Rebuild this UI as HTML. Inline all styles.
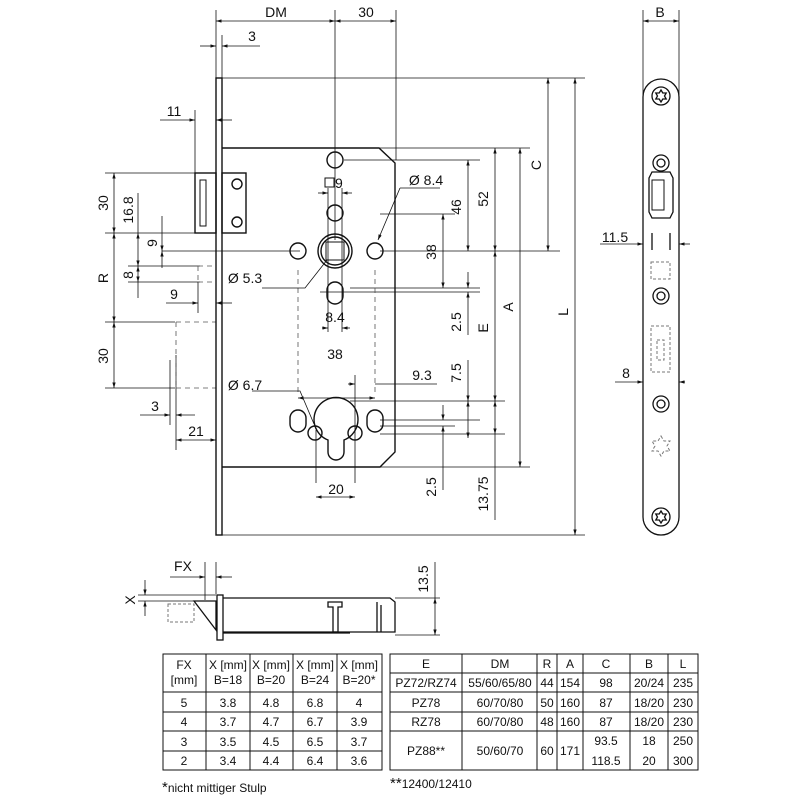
<!DOCTYPE html>
<html><head><meta charset="utf-8"><style>
html,body{margin:0;padding:0;background:#fff;width:800px;height:800px;overflow:hidden}
svg{display:block;overflow:hidden}
text{font-family:"Liberation Sans",Arial,sans-serif;fill:#111}
</style></head><body>
<svg width="800" height="800" viewBox="0 0 800 800" xmlns="http://www.w3.org/2000/svg">
<defs>
<marker id="a" viewBox="0 0 10 10" refX="10" refY="5" markerWidth="7" markerHeight="7" orient="auto-start-reverse"><path d="M0,2 L10,5 L0,8z" fill="#111"/></marker>
<g id="star"><path d="M0,-6 L1.8,-3 5.2,-3 3.5,0 5.2,3 1.8,3 0,6 -1.8,3 -5.2,3 -3.5,0 -5.2,-3 -1.8,-3Z"/></g>
</defs>
<g stroke="#111" fill="none" stroke-width="0.8">
<line x1="216" y1="10" x2="216" y2="78"/><line x1="335" y1="10" x2="335" y2="240"/><line x1="396" y1="10" x2="396" y2="160"/>
<line x1="222" y1="35" x2="222" y2="78"/>
<line x1="216" y1="78" x2="585" y2="78"/>
<line x1="222" y1="148" x2="530" y2="148"/>
<line x1="344" y1="160" x2="480" y2="160"/>
<line x1="380" y1="214" x2="455" y2="214"/>
<line x1="380" y1="251" x2="560" y2="251"/>
<line x1="350" y1="288" x2="480" y2="288"/>
<line x1="320" y1="292" x2="480" y2="292"/>
<line x1="350" y1="401" x2="505" y2="401"/>
<line x1="380" y1="420" x2="480" y2="420"/>
<line x1="380" y1="426" x2="455" y2="426"/>
<line x1="380" y1="434" x2="505" y2="434"/>
<line x1="222" y1="467" x2="530" y2="467"/>
<line x1="222" y1="535" x2="585" y2="535"/>
<line x1="216" y1="21" x2="335" y2="21" marker-start="url(#a)" marker-end="url(#a)"/>
<line x1="335" y1="21" x2="396" y2="21" marker-start="url(#a)" marker-end="url(#a)"/>
<line x1="200" y1="46" x2="216" y2="46" marker-end="url(#a)"/><line x1="260" y1="46" x2="222" y2="46" marker-end="url(#a)"/>
<line x1="160" y1="120" x2="195" y2="120" marker-end="url(#a)"/><line x1="232" y1="120" x2="216" y2="120" marker-end="url(#a)"/>
<line x1="195" y1="110" x2="195" y2="173"/>
<line x1="575" y1="78" x2="575" y2="535" marker-start="url(#a)" marker-end="url(#a)"/>
<line x1="548" y1="78" x2="548" y2="251" marker-start="url(#a)" marker-end="url(#a)"/>
<line x1="520" y1="148" x2="520" y2="467" marker-start="url(#a)" marker-end="url(#a)"/>
<line x1="495" y1="148" x2="495" y2="251" marker-start="url(#a)" marker-end="url(#a)"/>
<line x1="495" y1="251" x2="495" y2="401" marker-start="url(#a)" marker-end="url(#a)"/>
<line x1="495" y1="401" x2="495" y2="434" marker-start="url(#a)" marker-end="url(#a)"/>
<line x1="495" y1="434" x2="495" y2="520"/>
<line x1="468" y1="160" x2="468" y2="251" marker-start="url(#a)" marker-end="url(#a)"/>
<line x1="443" y1="214" x2="443" y2="288" marker-start="url(#a)" marker-end="url(#a)"/>
<line x1="468" y1="272" x2="468" y2="288" marker-end="url(#a)"/><line x1="468" y1="335" x2="468" y2="292" marker-end="url(#a)"/>
<line x1="468" y1="360" x2="468" y2="401" marker-end="url(#a)"/><line x1="468" y1="401" x2="468" y2="438" marker-start="url(#a)" marker-end="url(#a)"/>
<line x1="443" y1="405" x2="443" y2="420" marker-end="url(#a)"/><line x1="443" y1="490" x2="443" y2="426" marker-end="url(#a)"/>
<line x1="437" y1="384" x2="375" y2="384"/><line x1="348" y1="384" x2="355" y2="384" marker-end="url(#a)"/>
<line x1="355" y1="375" x2="355" y2="430"/>
<line x1="105" y1="173" x2="200" y2="173"/><line x1="105" y1="233" x2="200" y2="233"/>
<line x1="114" y1="173" x2="114" y2="233" marker-start="url(#a)" marker-end="url(#a)"/>
<line x1="114" y1="233" x2="114" y2="322" marker-start="url(#a)" marker-end="url(#a)"/>
<line x1="114" y1="322" x2="114" y2="388" marker-start="url(#a)" marker-end="url(#a)"/>
<line x1="138" y1="193" x2="138" y2="233"/><line x1="138" y1="233" x2="138" y2="266" marker-start="url(#a)" marker-end="url(#a)"/>
<line x1="138" y1="266" x2="138" y2="282" marker-start="url(#a)" marker-end="url(#a)"/><line x1="138" y1="282" x2="138" y2="298"/>
<line x1="162" y1="216" x2="162" y2="251" marker-end="url(#a)"/><line x1="162" y1="268" x2="162" y2="251" marker-end="url(#a)"/>
<line x1="162" y1="251" x2="300" y2="251"/>
<line x1="128" y1="266" x2="200" y2="266"/><line x1="128" y1="282" x2="200" y2="282"/>
<line x1="166" y1="303" x2="198" y2="303" marker-end="url(#a)"/><line x1="232" y1="303" x2="216" y2="303" marker-end="url(#a)"/>
<line x1="198" y1="282" x2="198" y2="313"/>
<line x1="105" y1="322" x2="175" y2="322"/><line x1="105" y1="388" x2="175" y2="388"/>
<line x1="140" y1="415" x2="170" y2="415" marker-end="url(#a)"/><line x1="195" y1="415" x2="176" y2="415" marker-end="url(#a)"/>
<line x1="170" y1="360" x2="170" y2="425"/><line x1="176" y1="355" x2="176" y2="450"/>
<line x1="176" y1="440" x2="216" y2="440" marker-start="url(#a)" marker-end="url(#a)"/>
<g stroke-dasharray="5,4" stroke="#555">
<path d="M198,266 H216 M198,282 H216 M198,266 V282"/>
<path d="M176,322 H216 M176,388 H216 M176,322 V388"/>
<path d="M298,270 V392 M375,270 V392"/>
</g>
<line x1="298" y1="398" x2="375" y2="398" marker-start="url(#a)" marker-end="url(#a)"/>
<line x1="322" y1="328" x2="328" y2="328" marker-end="url(#a)"/><line x1="350" y1="328" x2="342" y2="328" marker-end="url(#a)"/>
<line x1="318" y1="193" x2="328" y2="193" marker-end="url(#a)"/><line x1="352" y1="193" x2="342" y2="193" marker-end="url(#a)"/>
<line x1="328" y1="188" x2="328" y2="332"/><line x1="342" y1="188" x2="342" y2="332"/>
<line x1="316" y1="483" x2="316" y2="430"/><line x1="355" y1="483" x2="355" y2="430"/>
<line x1="316" y1="497" x2="355" y2="497" marker-start="url(#a)" marker-end="url(#a)"/>
<path d="M262,288 H305 L327,260"/><path d="M400,188 H440 M400,188 L378,240" marker-end="url(#a)"/>
<path d="M252,391 H300 L314,424"/>
</g>
<g stroke="#111" fill="none" stroke-width="1.4">
<rect x="216" y="78" width="6" height="457"/>
<path d="M222,148 H379 L395,163 V452 L380,467 H222"/>
<rect x="195" y="173" width="21" height="60"/>
<rect x="222" y="173" width="24" height="60"/>
<circle cx="237" cy="184" r="5"/><circle cx="237" cy="222" r="5"/>
<rect x="200" y="180" width="6" height="46" stroke-width="1"/>
<circle cx="335" cy="160" r="8"/><circle cx="335" cy="213" r="8"/>
<circle cx="335" cy="251" r="17"/><circle cx="335" cy="251" r="14"/>
<rect x="326" y="242" width="18" height="18" stroke-width="1"/>
<circle cx="298" cy="251" r="8"/><circle cx="375" cy="251" r="8"/>
<rect x="327" y="282" width="16" height="22" rx="8"/>
<rect x="325" y="178" width="9" height="9" stroke-width="1"/>
<path d="M328,440 A22,22 0 1 1 344,440 L344,452 A8,8 0 0 1 328,452 Z"/>
<rect x="290" y="410" width="16" height="22" rx="8"/><rect x="367" y="410" width="16" height="22" rx="8"/>
<circle cx="315" cy="433" r="7"/><circle cx="355" cy="433" r="7"/>
</g>
<g font-size="14" text-anchor="middle">
<text x="276" y="17">DM</text><text x="366" y="17">30</text><text x="252" y="41">3</text>
<text x="174" y="116">11</text><text x="335" y="188" text-anchor="start">9</text>
<text x="426" y="185">Ø 8.4</text><text x="245" y="283">Ø 5.3</text><text x="245" y="390">Ø 6.7</text>
<text x="335" y="322">8.4</text><text x="335" y="359">38</text><text x="422" y="380">9.3</text>
<text x="336" y="494">20</text><text x="155" y="411">3</text><text x="196" y="436">21</text>
<text x="174" y="299">9</text>
<text transform="translate(108,203) rotate(-90)">30</text>
<text transform="translate(133,210) rotate(-90)">16.8</text>
<text transform="translate(157,243) rotate(-90)">9</text>
<text transform="translate(133,275) rotate(-90)">8</text>
<text transform="translate(108,278) rotate(-90)">R</text>
<text transform="translate(108,356) rotate(-90)">30</text>
<text transform="translate(461,207) rotate(-90)">46</text>
<text transform="translate(488,199) rotate(-90)">52</text>
<text transform="translate(541,165) rotate(-90)">C</text>
<text transform="translate(436,252) rotate(-90)">38</text>
<text transform="translate(461,322) rotate(-90)">2.5</text>
<text transform="translate(488,328) rotate(-90)">E</text>
<text transform="translate(513,307) rotate(-90)">A</text>
<text transform="translate(568,312) rotate(-90)">L</text>
<text transform="translate(461,373) rotate(-90)">7.5</text>
<text transform="translate(436,487) rotate(-90)">2.5</text>
<text transform="translate(488,494) rotate(-90)">13.75</text>
<text x="660" y="17">B</text><text x="615" y="242">11.5</text><text x="626" y="378">8</text>
<text x="183" y="571">FX</text><text transform="translate(135,600) rotate(-90)">X</text>
<text transform="translate(428,579) rotate(-90)">13.5</text>
</g>
<g stroke="#111" fill="none" stroke-width="0.8">
<line x1="643" y1="10" x2="643" y2="95"/><line x1="679" y1="10" x2="679" y2="95"/>
<line x1="643" y1="21" x2="679" y2="21" marker-start="url(#a)" marker-end="url(#a)"/>
<line x1="600" y1="244" x2="643" y2="244" marker-end="url(#a)"/><line x1="690" y1="244" x2="679" y2="244" marker-end="url(#a)"/>
<line x1="615" y1="382" x2="643" y2="382" marker-end="url(#a)"/><line x1="685" y1="382" x2="679" y2="382" marker-end="url(#a)"/>
</g>
<g stroke="#111" fill="none" stroke-width="1.3">
<path d="M643,97 A18,18 0 0 1 679,97 V517 A18,18 0 0 1 643,517 Z"/>
<circle cx="661" cy="96" r="9"/><use href="#star" x="661" y="96"/>
<circle cx="661" cy="163" r="8"/><circle cx="661" cy="163" r="4"/>
<path d="M652,172 H670 L673,178 V212 L670,218 H652 L649,212 V178 Z"/>
<rect x="652" y="180" width="12" height="30" stroke-width="1"/>
<circle cx="661" cy="296" r="8"/><circle cx="661" cy="296" r="4"/>
<circle cx="661" cy="404" r="8"/><circle cx="661" cy="404" r="4"/>
<circle cx="661" cy="517" r="9"/><use href="#star" x="661" y="517"/>
<line x1="652" y1="233" x2="652" y2="250"/><line x1="670" y1="233" x2="670" y2="250"/>
</g>
<g stroke="#777" fill="none" stroke-width="1" stroke-dasharray="3,2">
<rect x="651" y="262" width="19" height="17"/><rect x="651" y="326" width="19" height="46"/><rect x="657" y="340" width="7" height="20"/>
<path d="M661,436 L664,441 670,441 667,446 670,451 664,451 661,456 658,451 652,451 655,446 652,441 658,441Z"/>
</g>
<g stroke="#111" fill="none" stroke-width="0.8">
<line x1="205" y1="562" x2="205" y2="600"/><line x1="216" y1="562" x2="216" y2="594"/>
<line x1="170" y1="577" x2="205" y2="577" marker-end="url(#a)"/><line x1="232" y1="577" x2="216" y2="577" marker-end="url(#a)"/>
<line x1="138" y1="595" x2="216" y2="595"/><line x1="138" y1="601" x2="205" y2="601"/>
<line x1="145" y1="580" x2="145" y2="595" marker-end="url(#a)"/><line x1="145" y1="616" x2="145" y2="601" marker-end="url(#a)"/>
<line x1="395" y1="598" x2="440" y2="598"/><line x1="395" y1="635" x2="440" y2="635"/>
<line x1="435" y1="562" x2="435" y2="598" /><line x1="435" y1="598" x2="435" y2="635" marker-start="url(#a)" marker-end="url(#a)"/>
</g>
<g stroke="#111" fill="none" stroke-width="1.3">
<rect x="217" y="595" width="6" height="45"/>
<path d="M223,598 H390 L395,602 V632 H223"/>
<path d="M223,633 H350"/><path d="M194,601 L216,601 V630 Z"/>
<path d="M328,602 H342 V607 H338 V632 H333 V607 H328 Z"/>
<line x1="377" y1="602" x2="377" y2="632"/><line x1="381" y1="605" x2="381" y2="632"/>
</g>
<rect x="168" y="604" width="26" height="18" fill="none" stroke="#777" stroke-dasharray="3,2"/>
<g stroke="#111" stroke-width="1" fill="none">
<rect x="163" y="654" width="219" height="116"/>
<path d="M206,654 V770 M250,654 V770 M293,654 V770 M337,654 V770 M163,692 H382 M163,712 H382 M163,731 H382 M163,751 H382"/>
<rect x="390" y="654" width="308" height="116"/>
<path d="M462,654 V770 M537,654 V770 M557,654 V770 M583,654 V770 M630,654 V770 M668,654 V770 M390,673 H698 M390,692 H698 M390,712 H698 M390,731 H698"/>
</g>
<g font-size="12" text-anchor="middle">
<text x="184" y="669">FX</text><text x="184" y="684">[mm]</text>
<text x="228" y="669">X [mm]</text><text x="228" y="684">B=18</text>
<text x="271" y="669">X [mm]</text><text x="271" y="684">B=20</text>
<text x="315" y="669">X [mm]</text><text x="315" y="684">B=24</text>
<text x="359" y="669">X [mm]</text><text x="359" y="684">B=20*</text>
<text x="184" y="707">5</text><text x="228" y="707">3.8</text><text x="271" y="707">4.8</text><text x="315" y="707">6.8</text><text x="359" y="707">4</text>
<text x="184" y="726">4</text><text x="228" y="726">3.7</text><text x="271" y="726">4.7</text><text x="315" y="726">6.7</text><text x="359" y="726">3.9</text>
<text x="184" y="746">3</text><text x="228" y="746">3.5</text><text x="271" y="746">4.5</text><text x="315" y="746">6.5</text><text x="359" y="746">3.7</text>
<text x="184" y="765">2</text><text x="228" y="765">3.4</text><text x="271" y="765">4.4</text><text x="315" y="765">6.4</text><text x="359" y="765">3.6</text>
<text x="426" y="668">E</text><text x="500" y="668">DM</text><text x="547" y="668">R</text><text x="570" y="668">A</text><text x="606" y="668">C</text><text x="649" y="668">B</text><text x="683" y="668">L</text>
<text x="426" y="687">PZ72/RZ74</text><text x="500" y="687">55/60/65/80</text><text x="547" y="687">44</text><text x="570" y="687">154</text><text x="606" y="687">98</text><text x="649" y="687">20/24</text><text x="683" y="687">235</text>
<text x="426" y="707">PZ78</text><text x="500" y="707">60/70/80</text><text x="547" y="707">50</text><text x="570" y="707">160</text><text x="606" y="707">87</text><text x="649" y="707">18/20</text><text x="683" y="707">230</text>
<text x="426" y="726">RZ78</text><text x="500" y="726">60/70/80</text><text x="547" y="726">48</text><text x="570" y="726">160</text><text x="606" y="726">87</text><text x="649" y="726">18/20</text><text x="683" y="726">230</text>
<text x="426" y="755">PZ88**</text><text x="500" y="755">50/60/70</text><text x="547" y="755">60</text><text x="570" y="755">171</text>
<text x="606" y="745">93.5</text><text x="649" y="745">18</text><text x="683" y="745">250</text>
<text x="606" y="765">118.5</text><text x="649" y="765">20</text><text x="683" y="765">300</text>
</g>
<g font-size="12"><text x="162" y="792"><tspan font-size="15">*</tspan>nicht mittiger Stulp</text>
<text x="390" y="788"><tspan font-size="15">**</tspan>12400/12410</text></g>
</svg>
</body></html>
